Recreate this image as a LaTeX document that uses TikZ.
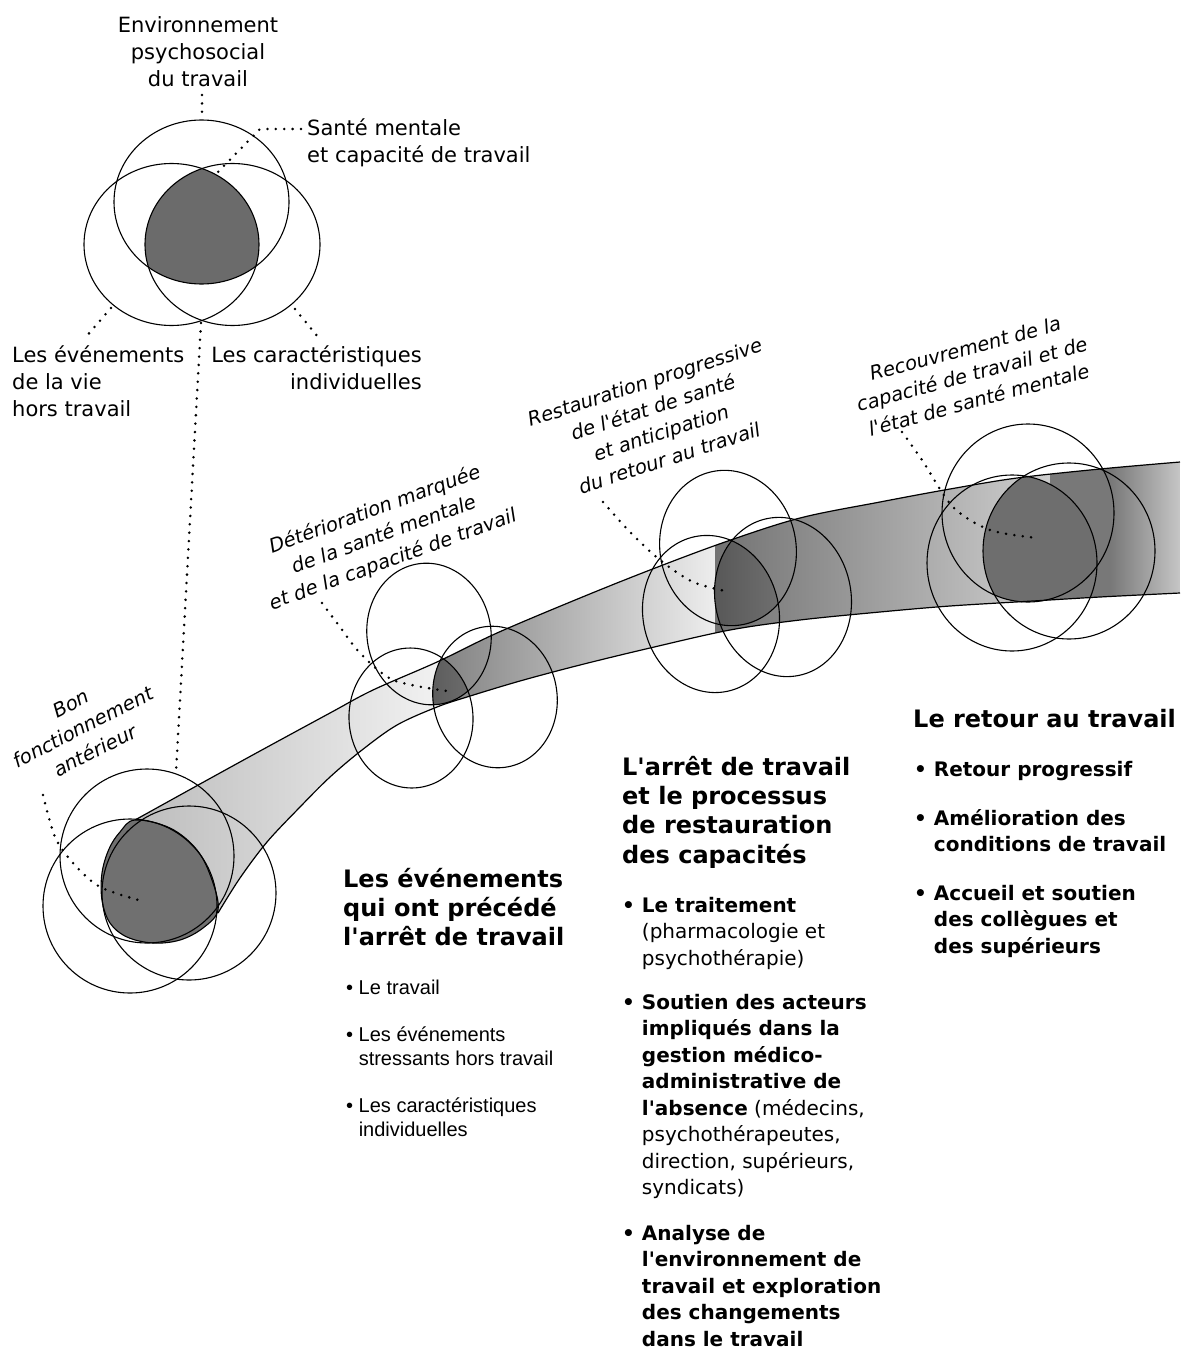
\documentclass[tikz,border=0pt]{standalone}
\usepackage{fontspec}
\setmainfont{DejaVu Sans}[Ligatures=TeXOff]
\newfontfamily\helv{Liberation Sans}[Ligatures=TeXOff]
\usetikzlibrary{calc}
\definecolor{vennfill}{gray}{0.42}
\definecolor{capfill}{gray}{0.44}
\newcommand\bulind{\hphantom{\textbf{•\ }}}
\newcommand\hbulind{\hphantom{•\ }}
\begin{document}
\begin{tikzpicture}[x=1pt,y=-1pt,
  ring/.style={draw=black,line width=1.1pt},
  tubeedge/.style={draw=black,line width=1.2pt},
  dots/.style={draw=black,line width=2.8pt,line cap=round,dash pattern=on 0pt off 8.4pt},
  lbl/.style={inner sep=0pt,align=center,font=\fontsize{21}{27}\selectfont},
  lbll/.style={lbl,align=left},
  lblr/.style={lbl,align=right},
  tilted/.style={inner sep=0pt,align=center,font=\fontsize{19.5}{26.5}\selectfont\itshape},
  head/.style={inner sep=0pt,align=left,anchor=north west,font=\fontsize{24}{29.3}\selectfont\bfseries},
  item/.style={inner sep=0pt,align=left,anchor=north west,font=\fontsize{20}{26.5}\selectfont},
  bitem/.style={item,font=\fontsize{20}{26.5}\selectfont\bfseries},
  hitem/.style={inner sep=0pt,align=left,anchor=north west,font=\fontsize{20}{24}\selectfont\helv},
]
\useasboundingbox (0,0) rectangle (1184,1351);

% ---------- tube path ----------
\path[save path=\tube] plot[smooth,tension=0.55] coordinates {(135,820) (200,784) (260,751) (330,713) (373,690) (437,662) (497,633) (580,598) (650,570) (725,542) (800,518) (880,502) (950,489) (1017,478) (1100,469) (1180,462)}
  -- plot[smooth,tension=0.55] coordinates {(1180,593) (1100,597) (1033,601) (950,606) (880,612) (800,620) (730,630) (650,648) (580,665) (520,681) (467,697) (437,707) (397,725) (362,750) (330,777) (300,807) (267,842) (240,878) (218,913)} -- cycle;

% ---------- tube shading ----------
\begin{scope}
  \path[use path=\tube, clip];
  \shade[left color=black!27, right color=black!5] (120,400) rectangle (445,1000);
  \shade[left color=black!48, right color=black!7] (445,400) rectangle (715,1000);
  \shade[left color=black!55, right color=black!19] (715,400) rectangle (1050,1000);
  \fill[black!53] (1050,400) rectangle (1111,1000);
  \shade[left color=black!53, right color=black!22] (1110,400) rectangle (1181,1000);
\end{scope}

% ---------- dark cross sections ----------
\begin{scope}
  \path[use path=\tube, clip];
  \clip[rotate around={9:(429,634)}] (429,634) ellipse [x radius=62, y radius=71];
  \clip[rotate around={3:(411,718)}] (411,718) ellipse [x radius=62, y radius=70];
  \clip[rotate around={10:(495,697)}] (495,697) ellipse [x radius=62, y radius=71];
  \shade[left color=black!64, right color=black!56] (430,640) rectangle (478,720);
\end{scope}
\begin{scope}
  \path[use path=\tube, clip];
  \clip[rotate around={11:(728,548)}] (728,548) ellipse [x radius=68, y radius=78];
  \clip[rotate around={12:(711,614)}] (711,614) ellipse [x radius=68, y radius=79];
  \clip[rotate around={11:(783,597)}] (783,597) ellipse [x radius=68, y radius=80];
  \shade[left color=black!66, right color=black!56] (712,530) rectangle (782,640);
\end{scope}
\begin{scope}
  \path[use path=\tube, clip];
  \clip (1028,513) ellipse [x radius=86, y radius=89];
  \clip (1012,563) ellipse [x radius=85, y radius=88];
  \clip (1069,551) ellipse [x radius=86, y radius=88];
  \fill[black!57] (970,450) rectangle (1110,620);
\end{scope}

% ---------- tube edges ----------
\draw[tubeedge] plot[smooth,tension=0.55] coordinates {(135,820) (200,784) (260,751) (330,713) (373,690) (437,662) (497,633) (580,598) (650,570) (725,542) (800,518) (880,502) (950,489) (1017,478) (1100,469) (1180,462)};
\draw[tubeedge] plot[smooth,tension=0.55] coordinates {(1180,593) (1100,597) (1033,601) (950,606) (880,612) (800,620) (730,630) (650,648) (580,665) (520,681) (467,697) (437,707) (397,725) (362,750) (330,777) (300,807) (267,842) (240,878) (218,913)};

% ---------- cluster 1 ----------
\filldraw[ring,fill=capfill] plot[smooth cycle,tension=0.6] coordinates {(135,820) (170,828) (197,850) (212,880) (218,910) (203,928) (180,940) (153,943) (127,937) (110,923) (102,900) (102,873) (109,849) (120,832)};
\draw[ring] (147,856) circle [radius=87];
\draw[ring] (130,906) circle [radius=87];
\draw[ring] (189,893) circle [radius=87];

% ---------- cluster 2 ----------
\draw[ring,rotate around={9:(429,634)}] (429,634) ellipse [x radius=62, y radius=71];
\draw[ring,rotate around={3:(411,718)}] (411,718) ellipse [x radius=62, y radius=70];
\draw[ring,rotate around={10:(495,697)}] (495,697) ellipse [x radius=62, y radius=71];

% ---------- cluster 3 ----------
\draw[ring,rotate around={11:(728,548)}] (728,548) ellipse [x radius=68, y radius=78];
\draw[ring,rotate around={12:(711,614)}] (711,614) ellipse [x radius=68, y radius=79];
\draw[ring,rotate around={11:(783,597)}] (783,597) ellipse [x radius=68, y radius=80];

% ---------- cluster 4 ----------
\draw[ring] (1028,513) ellipse [x radius=86, y radius=89];
\draw[ring] (1012,563) ellipse [x radius=85, y radius=88];
\draw[ring] (1069,551) ellipse [x radius=86, y radius=88];

% ---------- top Venn ----------
\begin{scope}
  \clip (201.5,202) ellipse [x radius=87.5, y radius=82];
  \clip (171.5,244.5) ellipse [x radius=87.5, y radius=81];
  \fill[vennfill] (232.5,244.5) ellipse [x radius=87.5, y radius=81];
\end{scope}
\draw[ring] (201.5,202) ellipse [x radius=87.5, y radius=82];
\draw[ring] (171.5,244.5) ellipse [x radius=87.5, y radius=81];
\draw[ring] (232.5,244.5) ellipse [x radius=87.5, y radius=81];

% ---------- labels ----------
\node[lbl,anchor=north] (envt) at (198,13) {\strut Environnement\\psychosocial\\du travail};
\node[lbll,anchor=north west] (sante) at (307,116) {\strut Santé mentale\\et capacité de travail};
\node[lbll,anchor=north west] (vie) at (12,343) {\strut Les événements\\de la vie\\hors travail};
\node[lblr,anchor=north east] (carac) at (422,343) {\strut Les caractéristiques\\individuelles};

\node[tilted,rotate=27] (bon) at (83,727) {Bon\\fonctionnement\\antérieur};
\node[tilted,rotate=20] (deter) at (384,535) {Détérioration marquée\\de la santé mentale\\et de la capacité de travail};
\node[tilted,rotate=18] (resto) at (657,420) {Restauration progressive\\de l'état de santé\\et anticipation\\du retour au travail};
\node[tilted,rotate=15] (recouv) at (972,374) {Recouvrement de la\\capacité de travail et de\\l'état de santé mentale};

% ---------- dotted leaders ----------
\coordinate (envtA) at (202,95);
\coordinate (envtB) at (202,119);
\coordinate (santeA) at (301,129);
\coordinate (santeB) at (260,129);
\coordinate (santeC) at (216,174);
\coordinate (vieA) at (111,308);
\coordinate (vieB) at (85,338);
\coordinate (caracA) at (295,309);
\coordinate (caracB) at (318,337);
\coordinate (longA) at (201,323);
\coordinate (longB) at (176,772);
\draw[dots] (envtA) -- (envtB);
\draw[dots] (santeA) -- (santeB) -- (santeC);
\draw[dots] (vieA) -- (vieB);
\draw[dots] (caracA) -- (caracB);
\draw[dots] (longA) -- (longB);
\draw[dots] plot[smooth] coordinates {(43,795) (55,837) (73,863) (100,887) (142,901)};
\draw[dots] plot[smooth] coordinates {(322,603) (340,627) (360,653) (393,680) (447,691)};
\draw[dots] plot[smooth] coordinates {(603,502) (630,532) (660,560) (693,582) (730,592)};
\draw[dots] plot[smooth] coordinates {(902,432) (922,460) (953,507) (990,530) (1037,538)};

% ---------- column 1 ----------
\node[head] (h1) at (343,866.5) {\strut Les événements\\qui ont précédé\\l'arrêt de travail};
\node[hitem] (e1) at (346,977.2) {\strut• Le travail};
\node[hitem] (e2) at (346,1024.2) {\strut• Les événements\\\hbulind stressants hors travail};
\node[hitem] (e3) at (346,1095.2) {\strut• Les caractéristiques\\\hbulind individuelles};

% ---------- column 2 ----------
\node[head] (h2) at (622,754.5) {\strut L'arrêt de travail\\et le processus\\de restauration\\des capacités};
\node[item] (t1) at (622,893.5) {\strut\textbf{• Le traitement}\\\bulind(pharmacologie et\\\bulind psychothérapie)};
\node[item] (t2) at (622,990.5) {\strut\textbf{• Soutien des acteurs}\\\bulind\textbf{impliqués dans la}\\\bulind\textbf{gestion médico-}\\\bulind\textbf{administrative de}\\\bulind\textbf{l'absence} (médecins,\\\bulind psychothérapeutes,\\\bulind direction, supérieurs,\\\bulind syndicats)};
\node[item] (t3) at (622,1221.5) {\strut\textbf{• Analyse de}\\\bulind\textbf{l'environnement de}\\\bulind\textbf{travail et exploration}\\\bulind\textbf{des changements}\\\bulind\textbf{dans le travail}};

% ---------- column 3 ----------
\node[head] (h3) at (913,706.5) {\strut Le retour au travail};
\node[bitem] (r1) at (914,757.5) {\strut• Retour progressif};
\node[bitem] (r2) at (914,806.5) {\strut• Amélioration des\\\bulind conditions de travail};
\node[bitem] (r3) at (914,881.5) {\strut• Accueil et soutien\\\bulind des collègues et\\\bulind des supérieurs};
\end{tikzpicture}
\end{document}
